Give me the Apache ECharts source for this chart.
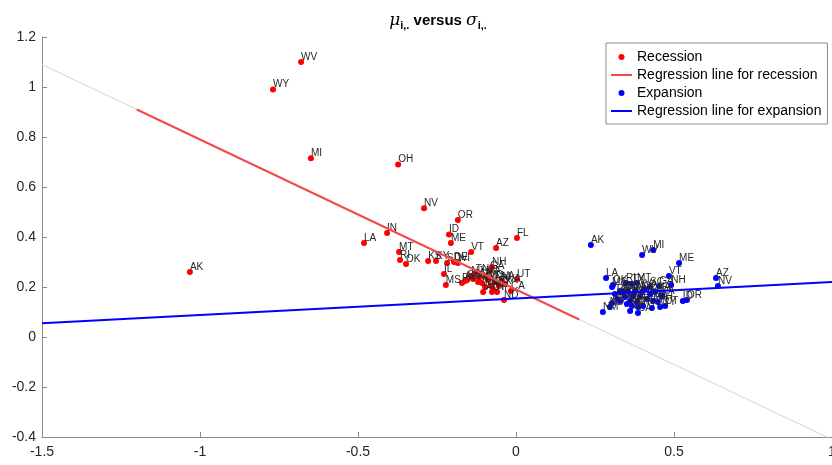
<!DOCTYPE html>
<html>
<head>
<meta charset="utf-8">
<script src="https://cdn.jsdelivr.net/npm/echarts@6/dist/echarts.min.js"></script>
<style>html,body{margin:0;padding:0;background:#fff}#c{width:832px;height:465px}</style>
</head>
<body>
<div id="c"></div>
<script>
// Recession: state, x (sigma), y (mu)
const recStates = ['WV','WY','MI','OH','NV','OR','ID','ME','IN','LA','MT','RI','OK','KS','KY','SD','DE','WI','VT','AZ','FL','IL','MS','AK','UT','CA','ND','NH',
  'PA','AL','CO','NJ','SC','TN','AR','NY','IA','MA','MD','GA','NC','MN','NM','HI','TX','VA','WA','CT','MO','NE'];
const recX = [-0.680,-0.769,-0.649,-0.373,-0.291,-0.184,-0.212,-0.206,-0.408,-0.481,-0.370,-0.367,-0.348,-0.278,-0.253,-0.218,-0.196,-0.184,-0.142,-0.063,0.003,-0.228,-0.222,-1.032,0.003,-0.016,-0.038,-0.076,
  -0.171,-0.161,-0.155,-0.142,-0.136,-0.127,-0.117,-0.108,-0.104,-0.095,-0.089,-0.082,-0.079,-0.073,-0.066,-0.060,-0.054,-0.044,-0.035,-0.076,-0.098,-0.120];
const recY = [1.100,0.990,0.715,0.690,0.515,0.468,0.410,0.376,0.416,0.376,0.340,0.308,0.292,0.304,0.304,0.296,0.300,0.296,0.340,0.356,0.396,0.252,0.208,0.260,0.232,0.184,0.148,0.280,
  0.216,0.224,0.228,0.244,0.232,0.252,0.236,0.216,0.180,0.244,0.228,0.264,0.204,0.192,0.220,0.180,0.204,0.224,0.212,0.180,0.200,0.220];

// Expansion: state, x (sigma), y (mu)
const expStates = ['AK','WV','MI','ME','VT','NH','AZ','NV','ID','OR','UT','FL','CA','LA','OK','NM','ND','RI','SC','GA','MS','MT',
  'AL','AR','CO','CT','DE','HI','IA','IL','IN','KS','KY','MA','MD','MN','MO','NC','NE','NJ','NY','OH','PA','SD','TN','TX','VA','WA','WI','WY'];
const expX = [0.237,0.399,0.434,0.516,0.484,0.491,0.633,0.639,0.528,0.541,0.472,0.430,0.386,0.285,0.307,0.275,0.297,0.348,0.424,0.453,0.304,0.383,
  0.304,0.320,0.329,0.345,0.361,0.370,0.383,0.392,0.402,0.415,0.424,0.434,0.339,0.354,0.377,0.399,0.351,0.367,0.386,0.449,0.462,0.329,0.313,0.367,0.408,0.440,0.361,0.456];
const expY = [0.368,0.328,0.348,0.296,0.244,0.208,0.236,0.204,0.144,0.148,0.124,0.116,0.096,0.236,0.208,0.100,0.120,0.216,0.200,0.204,0.200,0.216,
  0.136,0.152,0.144,0.160,0.144,0.164,0.140,0.160,0.124,0.152,0.172,0.144,0.180,0.184,0.184,0.180,0.132,0.124,0.120,0.140,0.164,0.184,0.172,0.212,0.192,0.180,0.104,0.120];

// Regression lines (end points)
const recLine = [[-1.2, 0.91], [0.2, 0.07]];
const recLineExt = [[-1.5, 1.09], [1.0, -0.41]];
const expLine = [[-1.5, 0.055], [1.0, 0.22]];

const FONT = 'Liberation Sans, Arial, Helvetica, sans-serif';
const mk = (s, xs, ys) => s.map((n, i) => ({ name: n, value: [xs[i], ys[i]] }));
const lbl = {
  show: true, position: 'right', distance: 0, offset: [-3, -5],
  formatter: p => p.name, fontSize: 10, color: '#262626', fontFamily: FONT
};

const chart = echarts.init(document.getElementById('c'), null, { renderer: 'canvas' });
chart.setOption({
  animation: false,
  backgroundColor: '#fff',
  title: {
    left: 433, top: 5, textAlign: 'center',
    text: '{m|μ}{s|i,.}{b| versus }{m|σ}{s|i,.}',
    textStyle: {
      fontFamily: FONT,
      rich: {
        m: { fontSize: 17, fontStyle: 'italic', fontWeight: 'normal', fontFamily: 'DejaVu Serif, serif', color: '#000' },
        s: { fontSize: 11, fontWeight: 'bold', padding: [10, 0, 0, 0], color: '#000', fontFamily: FONT },
        b: { fontSize: 15, fontWeight: 'bold', color: '#000', fontFamily: FONT }
      }
    }
  },
  legend: {
    orient: 'vertical', left: 606, top: 43,
    padding: [7, 6, 6, 4], itemGap: 4, itemWidth: 21, itemHeight: 6,
    backgroundColor: '#fff', borderColor: '#8c8c8c', borderWidth: 1,
    textStyle: { fontSize: 14, color: '#000', fontFamily: FONT },
    data: [
      { name: 'Recession' },
      { name: 'Regression line for recession', itemStyle: { opacity: 0 } },
      { name: 'Expansion' },
      { name: 'Regression line for expansion', itemStyle: { opacity: 0 } }
    ]
  },
  grid: { left: 42, right: 0, top: 37, bottom: 28, containLabel: false, outerBoundsMode: 'none' },
  xAxis: {
    type: 'value', min: -1.5, max: 1, interval: 0.5,
    axisLine: { onZero: false, lineStyle: { color: '#8c8c8c' } },
    axisTick: { inside: true, length: 5, lineStyle: { color: '#8c8c8c' } },
    axisLabel: { fontSize: 14, color: '#262626', margin: 8, fontFamily: FONT, formatter: v => String(+v.toFixed(1)) },
    splitLine: { show: false }
  },
  yAxis: {
    type: 'value', min: -0.4, max: 1.2, interval: 0.2,
    axisLine: { show: true, onZero: false, lineStyle: { color: '#8c8c8c' } },
    axisTick: { show: true, inside: true, length: 5, lineStyle: { color: '#8c8c8c' } },
    axisLabel: { fontSize: 14, color: '#262626', margin: 6, fontFamily: FONT, formatter: v => String(+v.toFixed(1)) },
    splitLine: { show: false }
  },
  series: [
    { name: 'ext', type: 'line', data: recLineExt, symbol: 'none', silent: true,
      lineStyle: { color: '#d4d4d4', width: 1 }, z: 1 },
    { name: 'Recession', type: 'scatter', data: mk(recStates, recX, recY), symbolSize: 6,
      itemStyle: { color: '#ff0000', opacity: 1 }, label: lbl, z: 2 },
    { name: 'Regression line for recession', type: 'line', data: recLine, symbol: 'none',
      lineStyle: { color: '#f24a4a', width: 2 }, itemStyle: { color: '#f24a4a' }, z: 3 },
    { name: 'Expansion', type: 'scatter', data: mk(expStates, expX, expY), symbolSize: 6,
      itemStyle: { color: '#0000ff', opacity: 1 }, label: lbl, z: 4 },
    { name: 'Regression line for expansion', type: 'line', data: expLine, symbol: 'none',
      lineStyle: { color: '#0000ff', width: 2 }, itemStyle: { color: '#0000ff' }, z: 5 }
  ]
});
</script>
</body>
</html>
